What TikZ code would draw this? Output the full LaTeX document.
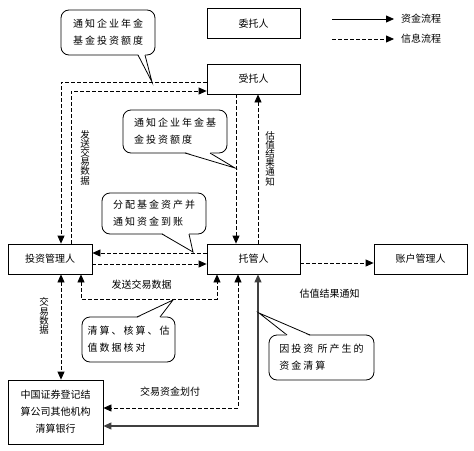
\documentclass[tikz,border=0pt]{standalone}
\usepackage{fontspec}
\newfontfamily\cjk{Noto Sans CJK SC}
\usetikzlibrary{arrows.meta}
\begin{document}
\begin{tikzpicture}[x=1pt,y=-1pt,
  every node/.style={font=\cjk\fontsize{10}{12}\selectfont},
  >={Triangle[length=8pt,width=7pt]},
  box/.style={draw,line width=0.8pt,minimum width=93pt,minimum height=30pt,inner sep=0pt,align=center},
  info/.style={line width=0.8pt,dash pattern=on 4pt off 2pt},
  fund/.style={line width=1.1pt,draw=black!75},
  callout/.style={draw,line width=0.8pt,rounded corners=8pt,fill=white,align=left,inner sep=0pt,
    font=\cjk\addfontfeature{LetterSpace=20}\fontsize{10}{17}\selectfont},
  tail/.style={line width=0.8pt},
  vtext/.style={align=center,inner sep=0pt,font=\cjk\fontsize{9.5}{9.2}\selectfont},
  lbl/.style={inner sep=0pt}
]
\fill[white] (0,0) rectangle (474,450);
\useasboundingbox (0,0) rectangle (474,450);

% boxes
\node[box] (wtr) at (253.5,23.5) {委托人};
\node[box] (str) at (253.5,79) {受托人};
\node[box] (tgr) at (253.5,259) {托管人};
\node[box] (zhgl) at (420.5,259) {账户管理人};
\node[box,minimum width=84pt] (tzgl) at (50,259) {投资管理人};
\node[box,minimum width=95pt,minimum height=64pt,font=\cjk\fontsize{10}{17}\selectfont] (zqdj) at (55.5,412) {中国证券登记结\\算公司其他机构\\清算银行};

% legend
\coordinate (la1) at (332,19); \coordinate (la2) at (394,19);
\coordinate (lb1) at (332,39); \coordinate (lb2) at (394,39);
\draw[line width=0.8pt,->] (la1) -- (la2);
\draw[info,->] (lb1) -- (lb2);
\node[lbl,anchor=west] (lta) at (401,19) {资金流程};
\node[lbl,anchor=west] (ltb) at (401,39) {信息流程};

% connectors
\draw[info,->] (str.west |- 0,82) -| (tzgl.north -| 61,0);
\draw[info,->] (tzgl.north -| 71,0) |- (str.west |- 0,91);
\draw[info,->] (str.south -| 236,0) -- (tgr.north -| 236,0);
\draw[info,->] (tgr.north -| 258,0) -- (str.south -| 258,0);
\draw[info,->] (tgr.west |- 0,253) -- (tzgl.east |- 0,253);
\draw[info,->] (tzgl.east |- 0,264) -- (tgr.west |- 0,264);
\draw[info,<->] (tzgl.south -| 81,0) |- (217,299) -- (tgr.south -| 217,0);
\draw[info,<->] (tzgl.south -| 61,0) -- (zqdj.north -| 61,0);
\draw[info,<->] (tgr.south -| 238,0) |- (zqdj.east |- 0,408);
\draw[fund,<->] (tgr.south -| 258,0) |- (zqdj.east |- 0,426);
\draw[info,->] (tgr.east |- 0,263) -- (zhgl.west |- 0,263);

% labels
\node[vtext] (l1) at (85,157.5) {发\\送\\交\\易\\数\\据};
\node[vtext] (l2) at (270,158.5) {估\\值\\结\\果\\通\\知};
\node[vtext] (l3) at (44,316) {交\\易\\数\\据};
\node[lbl] (l4) at (141.5,285) {发送交易数据};
\node[lbl] (l5) at (170,392) {交易资金划付};
\node[lbl] (l6) at (329.5,294) {估值结果通知};

% callouts
\node[callout,minimum width=94pt,minimum height=45pt] (ca) at (108,32.5) {通知企业年金\\基金投资额度};
\fill[white] (138,54) -- (152,82) -- (145,54) -- cycle;
\draw[tail] (138,55) -- (152,82) -- (145,55);

\node[callout,minimum width=104pt,minimum height=43pt] (cb) at (175,131.5) {通知企业年金基\\金投资额度};
\fill[white] (185,152) -- (235,168) -- (210,152) -- cycle;
\draw[tail] (185,153) -- (235,168) -- (210,153);

\node[callout,minimum width=104pt,minimum height=41pt] (cc) at (154,213.5) {分配基金资产并\\通知资金到账};
\fill[white] (162,233) -- (193,252) -- (189,233) -- cycle;
\draw[tail] (162,234) -- (193,252) -- (189,234);

\node[callout,minimum width=93pt,minimum height=45pt] (cd) at (128.5,339.5) {清算、核算、估\\值数据核对};
\fill[white] (137,318) -- (173,300) -- (160,318) -- cycle;
\draw[tail] (137,317) -- (173,300) -- (160,317);

\node[callout,minimum width=105pt,minimum height=45pt] (ce) at (321.5,357.5) {因投资 所产生的\\资金清算};
\fill[white] (287,336) -- (259,313) -- (310,336) -- cycle;
\draw[tail] (287,335) -- (259,313) -- (310,335);
\end{tikzpicture}
\end{document}
